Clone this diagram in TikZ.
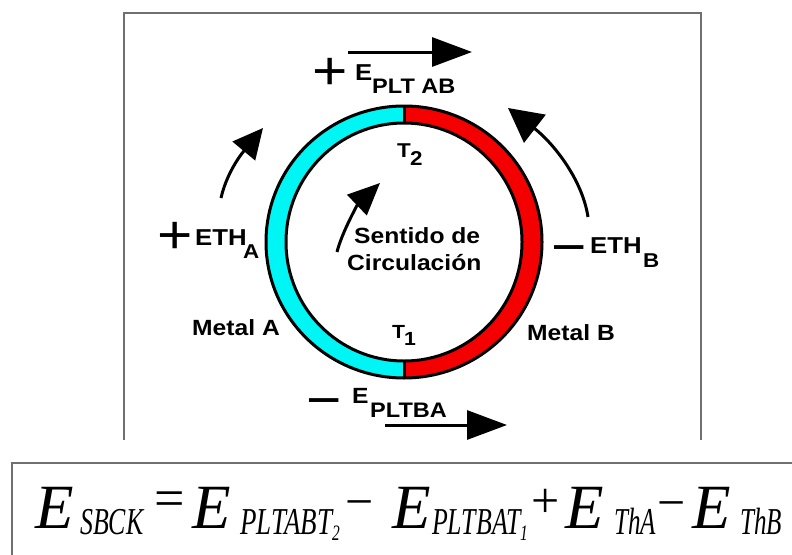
\documentclass[tikz,border=0pt]{standalone}
\usepackage{fontspec}
\usepackage{graphicx}
\usetikzlibrary{arrows.meta}
\newfontfamily\lab[FakeStretch=1.12]{Liberation Sans}
\newfontfamily\tms{Liberation Serif}
\definecolor{cyanc}{RGB}{0,245,245}
\definecolor{redc}{RGB}{245,0,0}
\definecolor{framec}{RGB}{112,112,112}
\tikzset{
  lbl/.style={inner sep=0pt, anchor=base west, font=\lab\bfseries\fontsize{#1}{#1}\selectfont},
  sign/.style={inner sep=0pt, anchor=center, font=\lab\fontsize{54}{54}\selectfont},
  bigE/.style={inner sep=0pt, anchor=base west, font=\tms\itshape\fontsize{63}{63}\selectfont},
  subE/.style={inner sep=0pt, anchor=base west, font=\tms\itshape\fontsize{#1}{#1}\selectfont},
  op/.style={inner sep=0pt, anchor=base, font=\tms\fontsize{#1}{#1}\selectfont},
  framel/.style={draw=framec, line width=2pt},
  ring/.style={line width=3pt},
  sarrow/.style={line width=3pt, -{Triangle[length=40pt,width=29pt]}},
  carrowC/.style={line width=3pt, -{Triangle[length=32pt,width=28pt]}},
  carrowL/.style={line width=3pt, -{Triangle[length=30pt,width=29pt]}},
  carrowR/.style={line width=3pt, -{Triangle[length=34pt,width=35pt]}},
}
\begin{document}
\begin{tikzpicture}[x=1pt,y=-1pt]
\useasboundingbox (0,0) rectangle (792,554);
% frames
\coordinate (f1) at (124,440); \coordinate (f2) at (124,13);
\coordinate (f3) at (701,13);  \coordinate (f4) at (701,440);
\draw[framel] (f1) -- (f2) -- (f3) -- (f4);
\coordinate (g1) at (12,560); \coordinate (g2) at (12,463); \coordinate (g3) at (800,463);
\draw[framel] (g1) -- (g2) -- (g3);
% ring
\coordinate (C) at (404,242);
\begin{scope}
  \clip (0,0) rectangle (404,554);
  \fill[cyanc, even odd rule] (C) ellipse[x radius=138, y radius=136] (C) ellipse[x radius=118, y radius=119];
\end{scope}
\begin{scope}
  \clip (404,0) rectangle (792,554);
  \fill[redc, even odd rule] (C) ellipse[x radius=138, y radius=136] (C) ellipse[x radius=118, y radius=119];
\end{scope}
\draw[ring] (C) ellipse[x radius=138, y radius=136];
\draw[ring] (C) ellipse[x radius=118, y radius=119];
\coordinate (dt1) at (404,106); \coordinate (dt2) at (404,123);
\coordinate (db1) at (404,361); \coordinate (db2) at (404,378);
\draw[ring] (dt1) -- (dt2);
\draw[ring] (db1) -- (db2);
% top label and arrow
\node[sign] (ptop) at (330,74) {+};
\node[lbl=23] (etop) at (355,80) {E};
\node[lbl=21] (stop) at (372,93) {PLT AB};
\coordinate (ta0) at (348,52); \coordinate (ta1) at (472,52);
\draw[sarrow] (ta0) -- (ta1);
% T2, T1
\node[lbl=20] (t2) at (397,157) {T};
\node[lbl=20] (t2s) at (410,165) {2};
\node[lbl=19] (t1) at (392,338) {T};
\node[lbl=19] (t1s) at (404,345) {1};
% centre
\node[lbl=22] (sen) at (354,243) {Sentido de};
\node[lbl=22] (cir) at (347,270) {Circulación};
\coordinate (ca0) at (337,252); \coordinate (ca1) at (380,183);
\draw[carrowC] (ca0) .. controls (342,232) and (358,204) .. (ca1);
% left
\node[sign] (pa) at (175,238) {+};
\node[lbl=23] (etha) at (195,245) {ETH};
\node[lbl=20] (ethas) at (243,258) {A};
\coordinate (la0) at (221,198); \coordinate (la1) at (263,128);
\draw[carrowL] (la0) .. controls (226,176) and (238,158) .. (la1);
% right
\node[sign] (mb) at (569,256) {−};
\node[lbl=23] (ethb) at (590,253) {ETH};
\node[lbl=20] (ethbs) at (643,267) {B};
\coordinate (ra0) at (588,217); \coordinate (ra1) at (508,108);
\draw[carrowR] (ra0) .. controls (582,178) and (552,142) .. (ra1);
% metals
\node[lbl=22] (ma) at (192,335) {Metal A};
\node[lbl=22] (mbb) at (527,340) {Metal B};
% bottom
\node[sign] (mbot) at (324,409) {−};
\node[lbl=22] (ebot) at (352,403) {E};
\node[lbl=21] (sbot) at (370,417) {PLTBA};
\coordinate (ba0) at (385,425); \coordinate (ba1) at (507,425);
\draw[sarrow] (ba0) -- (ba1);
% formula
\node[bigE] (e1) at (35,528) {E};
\node[subE=38] (s1) at (80,534) {\scalebox{0.68}[1]{SBCK}};
\node[op=54] (o1) at (170,516) {=};
\node[bigE] (e2) at (192,528) {E};
\node[subE=38] (s2) at (240,534) {\scalebox{0.71}[1]{PLTABT}};
\node[subE=22] (s2b) at (332,540) {\scalebox{0.7}[1]{2}};
\node[op=50] (o2) at (360,518) {−};
\node[bigE] (e3) at (392,528) {E};
\node[subE=38] (s3) at (432,534) {\scalebox{0.68}[1]{PLTBAT}};
\node[subE=22] (s3b) at (520,540) {\scalebox{0.7}[1]{1}};
\node[op=50] (o3) at (546,517) {+};
\node[bigE] (e4) at (565,528) {E};
\node[subE=38] (s4) at (614,534) {\scalebox{0.66}[1]{ThA}};
\node[op=50] (o4) at (672,519) {−};
\node[bigE] (e5) at (692,528) {E};
\node[subE=38] (s5) at (740,534) {\scalebox{0.66}[1]{ThB}};
\end{tikzpicture}
\end{document}
